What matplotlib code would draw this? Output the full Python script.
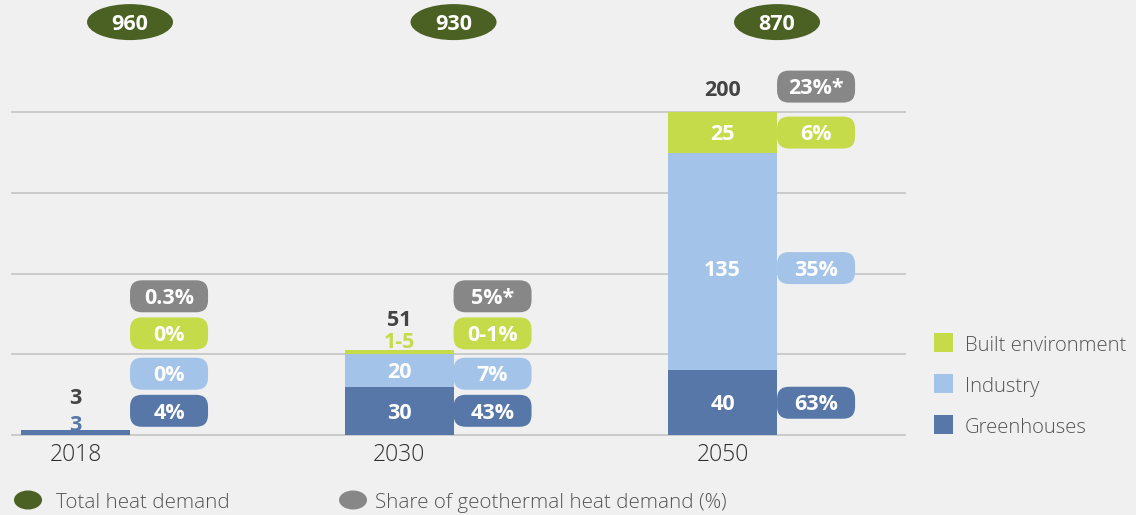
import matplotlib
matplotlib.use("Agg")
import matplotlib.pyplot as plt
import matplotlib.transforms as mtransforms
from matplotlib.patches import FancyBboxPatch, Ellipse, Rectangle

# data
years = ['2018', '2030', '2050']
greenhouses = [3, 30, 40]
industry = [0, 20, 135]
built = [0, 3, 25]
totals = [3, 51, 200]
total_demand = [960, 930, 870]
share_total = ['0.3%', '5%*', '23%*']
share_built = ['0%', '0-1%', '6%']
share_industry = ['0%', '7%', '35%']
share_green = ['4%', '43%', '63%']
built_text = ['', '1-5', '25']

C_GREEN = '#5677a8'
C_IND = '#a3c4e8'
C_BUILT = '#c5db4a'
C_GRAY = '#878787'
C_DARK = '#4b6123'
BG = '#f0f0f0'

FONT = 'Open Sans'
VSIZE = 15.5
DY = -1.4  # nudge text down a bit, the font sits high with va='center'

fig = plt.figure(figsize=(11.36, 5.15), dpi=100, facecolor=BG)
ax = fig.add_axes([0, 0, 1, 1])
ax.set_facecolor(BG)
ax.set_xlim(-0.2334, 3.278)
ax.set_ylim(-49.6, 269.7)
ax.axis('off')

xs = [0, 1, 2]
bw = 0.337

# grid
for g in [0, 50, 100, 150, 200]:
    ax.plot([-0.196, 2.564], [g, g], color='#c8c8c8', lw=1.3, zorder=0)

b1 = [g + i for g, i in zip(greenhouses, industry)]
ax.bar(xs, greenhouses, width=bw, color=C_GREEN, zorder=2)
ax.bar(xs, industry, width=bw, bottom=greenhouses, color=C_IND, zorder=2)
ax.bar(xs, built, width=bw, bottom=b1, color=C_BUILT, zorder=2)

px = mtransforms.Affine2D().scale(0.01) + fig.dpi_scale_trans


def at(x, y):
    return px + mtransforms.ScaledTranslation(x, y, ax.transData)


def val(x, y, text, color='white'):
    ax.text(x, y + DY, text, ha='center', va='center', color=color, fontsize=VSIZE,
            fontweight='bold', family=FONT, zorder=4)


def pill(x, y, color, text):
    p = FancyBboxPatch((-39, -16), 78, 32, boxstyle="round,pad=0,rounding_size=12",
                       facecolor=color, edgecolor='none', transform=at(x, y), zorder=3)
    ax.add_patch(p)
    val(x, y, text)


pill_y = [[15, 38, 63, 86], [15, 38, 63, 86], [20, 103.5, 187.5, 216]]
for i, x in enumerate(xs):
    # total heat demand oval
    ox_ = x + bw / 2
    ax.add_patch(Ellipse((0, 0), 86, 36, facecolor=C_DARK, edgecolor='none',
                         transform=at(ox_, 256), zorder=3))
    val(ox_, 256, str(total_demand[i]))
    # share pills
    pxc = x + bw / 2 + 0.1206
    py = pill_y[i]
    pill(pxc, py[0], C_GREEN, share_green[i])
    pill(pxc, py[1], C_IND, share_industry[i])
    pill(pxc, py[2], C_BUILT, share_built[i])
    pill(pxc, py[3], C_GRAY, share_total[i])
    # year
    ax.text(x, -12.3, years[i], ha='center', va='center', color='#2e2e2e',
            fontsize=16.5, fontweight='light', family=FONT)

# bar value labels
val(0, 7, str(greenhouses[0]), C_GREEN)
val(0, 24, str(totals[0]), '#444444')
val(1, greenhouses[1] / 2, str(greenhouses[1]))
val(1, greenhouses[1] + industry[1] / 2, str(industry[1]))
val(1, 59, built_text[1], C_BUILT)
val(1, 72.5, str(totals[1]), '#444444')
val(2, greenhouses[2] / 2, str(greenhouses[2]))
val(2, 103.5, str(industry[2]))
val(2, b1[2] + built[2] / 2, built_text[2])
val(2, 215, str(totals[2]), '#444444')

# right legend
leg = [('Built environment', C_BUILT, 344), ('Industry', C_IND, 385), ('Greenhouses', C_GREEN, 426)]
for name, col, ypx in leg:
    yd = (435 - ypx) / 1.613
    xd = (943 - 75.5) / 323.5
    ax.add_patch(Rectangle((-9.5, -9.5), 19, 19, facecolor=col, edgecolor='none',
                           transform=at(xd, yd + 1.2)))
    ax.text((965 - 75.5) / 323.5, yd - 1.2, name, ha='left', va='center', color='#555555',
            fontsize=14.6, fontweight='light', family=FONT)

# bottom legend
yb = (435 - 500) / 1.613
for xe, col, name, xt in [(28, C_DARK, 'Total heat demand', 56),
                          (353, C_GRAY, 'Share of geothermal heat demand (%)', 375)]:
    ax.add_patch(Ellipse((0, 0), 28, 19, facecolor=col, edgecolor='none',
                         transform=at((xe - 75.5) / 323.5, yb)))
    ax.text((xt - 75.5) / 323.5, yb - 1.8, name, ha='left', va='center', color='#555555',
            fontsize=14.8, fontweight='light', family=FONT)

fig.savefig('out.png', dpi=100, facecolor=BG)
